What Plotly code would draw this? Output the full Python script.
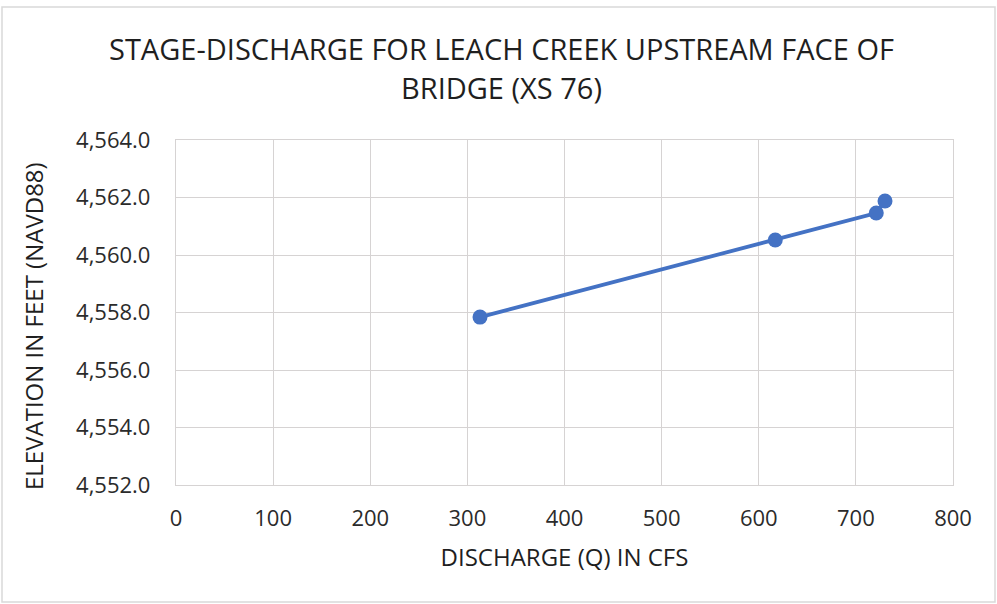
import plotly.graph_objects as go

# Stage-discharge rating points at XS 76
discharge_cfs = [313, 617, 721, 730]
elevation_ft = [4557.84, 4560.52, 4561.46, 4561.88]

title_lines = ["STAGE-DISCHARGE FOR LEACH CREEK UPSTREAM FACE OF", "BRIDGE (XS 76)"]
x_title = "DISCHARGE (Q) IN CFS"
y_title = "ELEVATION IN FEET (NAVD88)"

W, H = 997, 604
L, R, T, B = 176, 44, 140, 119

FONT = "Open Sans"
TXT = "#1f1f1f"
TICK = "#2b2b2b"
GRID = "#d6d3d3"
BLUE = "#4472c4"

fig = go.Figure(
    go.Scatter(
        x=discharge_cfs,
        y=elevation_ft,
        mode="lines+markers",
        line=dict(color=BLUE, width=3.8),
        marker=dict(color=BLUE, size=15),
        showlegend=False,
    )
)

fig.update_layout(
    width=W,
    height=H,
    margin=dict(l=L, r=R, t=T, b=B),
    paper_bgcolor="white",
    plot_bgcolor="white",
    font=dict(family=FONT, color=TICK),
)

axis_common = dict(
    showgrid=True,
    gridcolor=GRID,
    gridwidth=1.3,
    zeroline=False,
    showline=True,
    linecolor=GRID,
    linewidth=1.3,
    mirror=True,
    ticks="",
    tickfont=dict(size=22, color=TICK, family=FONT),
)

fig.update_xaxes(
    range=[0, 800],
    tick0=0,
    dtick=100,
    ticklabelstandoff=13,
    title=dict(text=x_title, font=dict(size=24, color=TXT, family=FONT), standoff=18),
    **axis_common,
)

fig.update_yaxes(
    range=[4552, 4564],
    tick0=4552,
    dtick=2,
    tickformat=",.1f",
    ticklabelstandoff=20,
    **axis_common,
)

pw, ph = W - L - R, H - T - B

# Vertical axis title, placed by pixel position left of the tick labels
fig.add_annotation(
    text=y_title,
    xref="paper",
    yref="paper",
    x=(33 - L) / pw,
    y=(H - B - 326) / ph,
    xanchor="center",
    yanchor="middle",
    textangle=-90,
    showarrow=False,
    font=dict(size=24, color=TXT, family=FONT),
)

# Two-line chart title, each line placed on its own
for text, ypix in zip(title_lines, [48, 88]):
    fig.add_annotation(
        text=text,
        xref="paper",
        yref="paper",
        x=(501 - L) / pw,
        y=(H - B - ypix) / ph,
        xanchor="center",
        yanchor="middle",
        showarrow=False,
        font=dict(size=29, color=TXT, family=FONT),
    )

# Thin frame round the whole chart area
fig.add_shape(
    type="rect",
    xref="paper",
    yref="paper",
    x0=-(L - 2) / pw,
    x1=1 + (R - 2) / pw,
    y0=-(B - 2) / ph,
    y1=1 + (T - 7) / ph,
    line=dict(color="#d9d9d9", width=1.5),
    fillcolor="rgba(0,0,0,0)",
    layer="below",
)

fig.write_html("out.html")
